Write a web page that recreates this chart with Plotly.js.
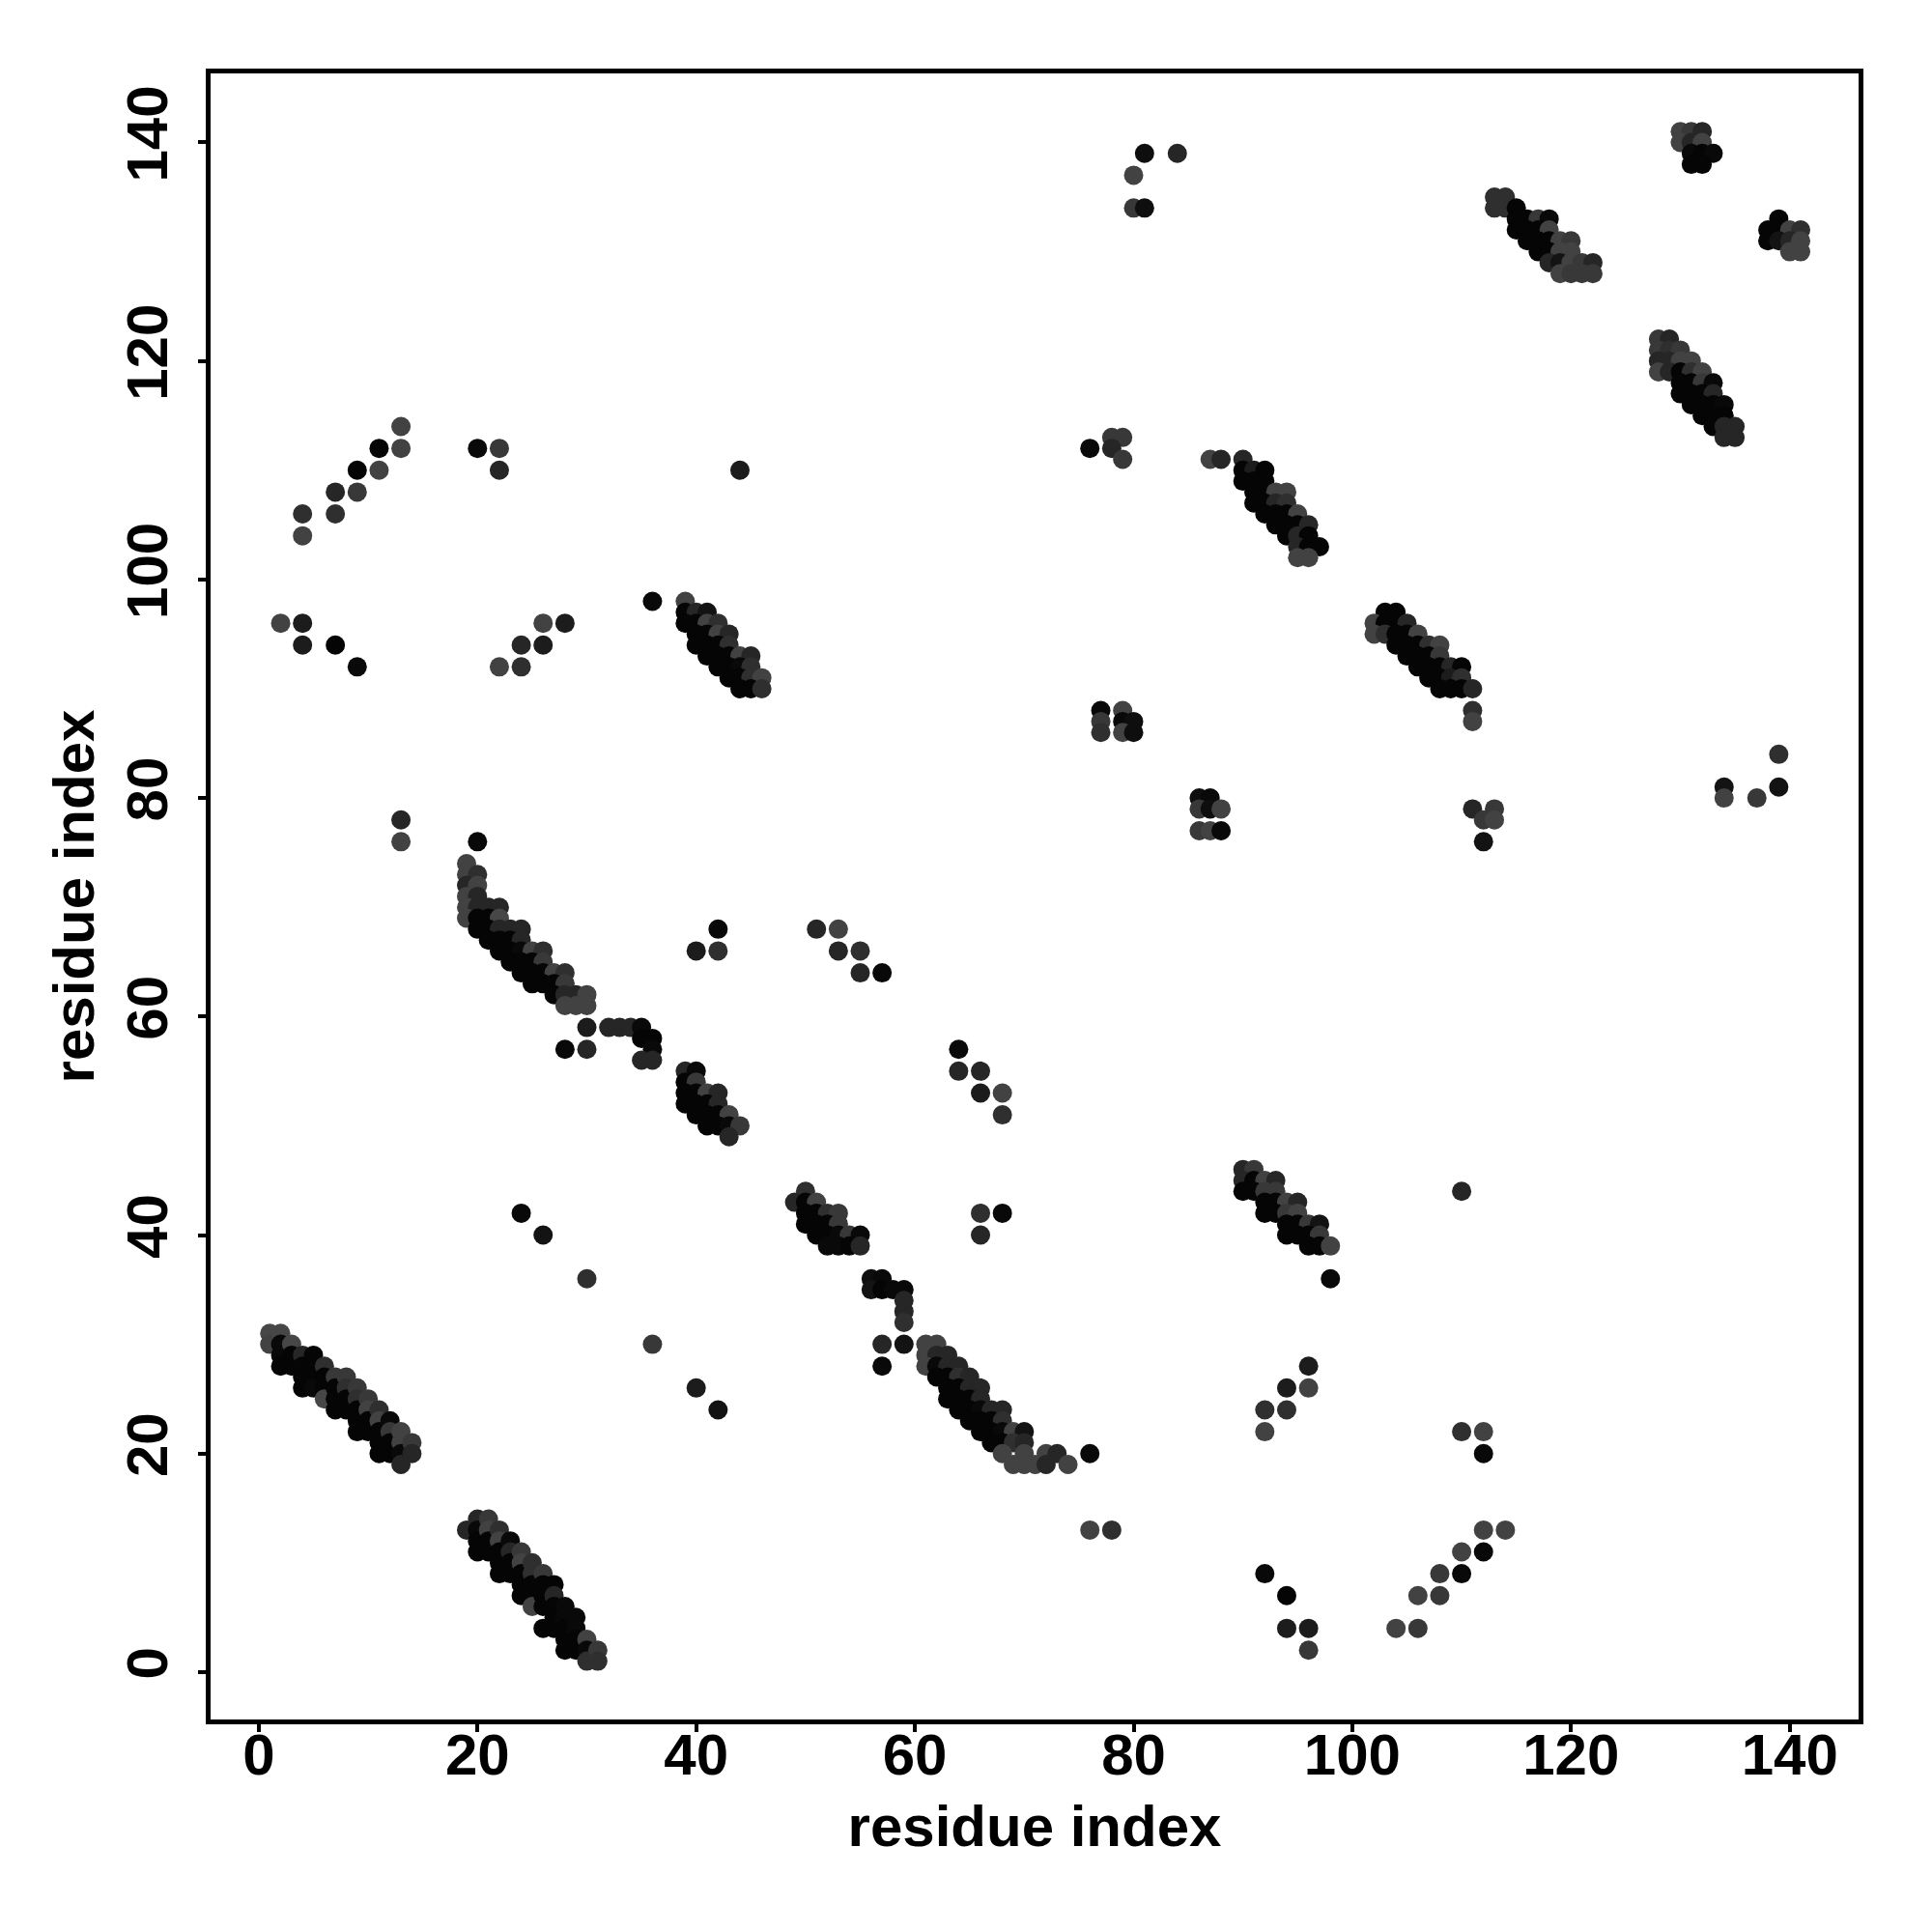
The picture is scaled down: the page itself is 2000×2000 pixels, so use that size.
<!DOCTYPE html>
<html>
<head>
<meta charset="utf-8">
<script src="https://cdn.plot.ly/plotly-3.0.1.min.js"></script>
<style>html,body{margin:0;padding:0;background:#ffffff;}</style>
</head>
<body>
<div id="plot" style="width:2000px;height:2000px;"></div>
<script>
// Contact map: residue index i (x), residue index j (y), contact score p (0..1 -> grey..black)
const A_i = [1,1, 2,2,2,2, 3,3,3, 4,4,4,4, 5,5,5,5, 6,6,6,6, 7,7,7,7, 8,8,8,8, 9,9,9,9,9, 10,10,10,10, 11,11,11,11,11, 12,12,12,12, 13,13,13,13, 14,14];
const A_j = [31,30, 31,30,29,28, 30,29,28, 29,28,27,26, 29,28,27,26, 28,27,26,25, 27,26,25,24, 27,26,25,24, 26,25,24,23,22, 25,24,23,22, 24,23,22,21,20, 23,22,21,20, 22,21,20,19, 21,20];
const A_p = [.25,.3, .25,.9,.9,.95, .25,.95,.95, .6,.95,.95,.95, .95,.95,.95,.9, .5,.95,.95,.25, .4,.95,.95,.95, .4,.5,.95,.95, .4,.5,.95,.95,.95, .4,.3,.95,.95, .5,.3,.95,.95,.95, .9,.4,.95,.95, .3,.3,.9,.6, .4,.6];

const B_i = [19, 20,20,20,20, 21,21,21,21, 22,22,22,22,22, 23,23,23,23, 24,24,24,24,24, 25,25,25,25,25, 26,26,26,26,26, 27,27,27,27,27, 28,28,28,28,28, 29,29,29,29, 30,30,30, 31,31];
const B_j = [13, 14,13,12,11, 14,13,12,11, 13,12,11,10,9, 12,11,10,9, 11,10,9,8,7, 10,9,8,7,6, 9,8,7,6,4, 8,7,6,5,4, 6,5,4,3,2, 5,4,3,2, 3,2,1, 2,1];
const B_p = [.6, .6,.9,.95,.95, .4,.3,.95,.95, .5,.3,.95,.95,.95, .9,.6,.95,.95, .4,.3,.95,.95,.95, .5,.5,.95,.95,.3, .4,.95,.95,.95,.95, .95,.6,.95,.95,.95, .9,.9,.95,.95,.95, .9,.9,.95,.95, .3,.9,.5, .4,.5];

const C_i = [20, 19, 19,20, 19,20, 19,20, 19,20,21,22, 19,20,21,22, 20,21,22,23,24, 21,22,23,24, 22,23,24,25,26, 23,24,25,26, 24,25,26,27,28, 25,26,27,28, 27,28,29,30, 28,29,30];
const C_j = [76, 74, 73,73, 72,72, 71,71, 70,70,70,70, 69,69,69,69, 68,68,68,68,68, 67,67,67,67, 66,66,66,66,66, 65,65,65,65, 64,64,64,64,64, 63,63,63,63, 62,62,62,62, 61,61,61];
const C_p = [.9, .3, .3,.5, .6,.3, .3,.6, .3,.6,.6,.6, .3,.95,.95,.25, .95,.95,.6,.6,.6, .95,.95,.95,.6, .95,.95,.9,.3,.5, .95,.95,.95,.4, .95,.95,.95,.3,.5, .95,.95,.95,.4, .95,.6,.6,.3, .3,.3,.3];

const D_i = [32,33,34,35, 35,36, 36, 35,36, 30,28,30];
const D_j = [59,59,59,59, 58,58, 57, 56,56, 59,57,57];
const D_p = [.6,.6,.6,.9, .95,.95, .9, .6,.6, .7,.9,.6];

const E_i = [39,40, 39,40, 39,40,41,42, 39,40,41,42, 40,41,42,43, 41,42,43,44, 43];
const E_j = [55,55, 54,54, 53,53,53,53, 52,52,52,52, 51,51,51,51, 50,50,50,50, 49];
const E_p = [.6,.9, .95,.4, .95,.95,.3,.6, .95,.95,.95,.6, .95,.95,.95,.3, .95,.95,.9,.4, .6];

const F_i = [39, 39,40,41, 39,40,41,42, 40,41,42,43, 40,41,42,43, 41,42,43,44,45, 42,43,44,45, 43,44,45,46, 44,45,46];
const F_j = [98, 97,97,97, 96,96,96,96, 95,95,95,95, 94,94,94,94, 93,93,93,93,93, 92,92,92,92, 91,91,91,91, 90,90,90];
const F_p = [.3, .95,.6,.8, .95,.95,.3,.5, .95,.95,.3,.6, .95,.95,.95,.5, .95,.95,.95,.3,.6, .95,.95,.9,.5, .95,.95,.5,.3, .95,.95,.5];

const G_i = [50, 49,50,51, 50,51,52,53, 50,51,52,53, 51,52,53,54,55, 52,53,54,55];
const G_j = [44, 43,43,43, 42,42,42,42, 41,41,41,41, 40,40,40,40,40, 39,39,39,39];
const G_p = [.5, .6,.95,.3, .95,.95,.5,.4, .95,.95,.95,.4, .95,.95,.9,.4,.9, .9,.9,.95,.6];

const H_i = [56,57, 56,57,58,59, 59, 59, 59, 57,59,57];
const H_j = [36,36, 35,35,35,35, 34, 33, 32, 30,30,28];
const H_p = [.85,.9, .8,.95,.9,.9, .6, .6, .5, .6,.8,.9];

const I_i = [61,62, 61,62,63, 61,62,63,64, 62,63,64,65, 63,64,65,66, 63,64,65,66, 64,65,66,67,68, 65,66,67,68, 66,67,68,69,70, 67,68,69,70, 68,70,72,73, 69,70,71,72,74, 76];
const I_j = [30,30, 29,29,29, 28,28,28,28, 27,27,27,27, 26,26,26,26, 25,25,25,25, 24,24,24,24,24, 23,23,23,23, 22,22,22,22,22, 21,21,21,21, 20,20,20,20, 19,19,19,19,19, 20];
const I_p = [.3,.3, .3,.6,.6, .3,.9,.6,.6, .95,.95,.5,.6, .95,.95,.6,.6, .95,.95,.95,.6, .95,.95,.9,.6,.6, .95,.95,.95,.5, .95,.95,.9,.3,.8, .95,.95,.5,.6, .3,.3,.3,.6, .3,.3,.3,.6,.3, .9];

const J_i = [90,91, 90,91,92,93, 90,91,92,93, 92,93,94,95, 92,93,94,95, 94,95,96,97, 94,95,96,97, 96,97,98, 98, 110];
const J_j = [46,46, 45,45,45,45, 44,44,44,44, 43,43,43,43, 42,42,42,42, 41,41,41,41, 40,40,40,40, 39,39,39, 36, 44];
const J_p = [.6,.4, .6,.95,.3,.6, .95,.95,.4,.4, .95,.95,.3,.6, .95,.95,.4,.3, .95,.95,.4,.8, .95,.95,.95,.4, .95,.95,.3, .9, .6];

const K_i = [87,88,90, 90,91,92, 90,91,92, 91,92,93,94, 91,92,93,94, 92,93,94,95, 93,94,95,96, 94,95,96, 95,96,97, 95,96];
const K_j = [111,111,111, 110,110,110, 109,109,109, 108,108,108,108, 107,107,107,107, 106,106,106,106, 105,105,105,105, 104,104,104, 103,103,103, 102,102];
const K_p = [.3,.6,.6, .95,.7,.95, .95,.95,.95, .95,.95,.3,.3, .95,.95,.6,.5, .95,.95,.95,.3, .95,.95,.95,.6, .95,.6,.95, .6,.95,.95, .3,.3];

const L_i = [103,104, 102,103,104,105, 102,103,104,105,106, 104,105,106,107,108, 105,106,107,108, 106,107,108,109,110, 107,108,109,110, 108,109,110,111, 111, 111];
const L_j = [97,97, 96,96,96,96, 95,95,95,95,95, 94,94,94,94,94, 93,93,93,93, 92,92,92,92,92, 91,91,91,91, 90,90,90,90, 88, 87];
const L_p = [.95,.95, .3,.95,.95,.6, .3,.5,.95,.95,.3, .95,.95,.95,.5,.3, .95,.95,.95,.4, .95,.95,.95,.6,.95, .95,.95,.7,.5, .95,.95,.95,.6, .5, .3];

const M_i = [113,114, 113,114,115, 115,116,117,118, 115,116,117,118, 116,117,118,119,120, 117,118,119,120, 118,119,120,121,122, 119,120,121,122];
const M_j = [135,135, 134,134,134, 133,133,133,133, 132,132,132,132, 131,131,131,131,131, 130,130,130,130, 129,129,129,129,129, 128,128,128,128];
const M_p = [.5,.5, .5,.5,.95, .95,.95,.4,.9, .95,.95,.95,.3, .95,.95,.95,.3,.4, .95,.95,.3,.3, .6,.8,.3,.4,.6, .3,.4,.4,.4];

const N_i = [128,129, 128,129,130, 128,129,130,131, 128,129,130,131,132, 130,131,132,133, 130,131,132,133, 131,132,133,134, 132,133,134, 133,134,135, 134,135];
const N_j = [122,122, 121,121,121, 120,120,120,120, 119,119,119,119,119, 118,118,118,118, 117,117,117,117, 116,116,116,116, 115,115,115, 114,114,114, 113,113];
const N_p = [.4,.6, .4,.5,.4, .6,.6,.3,.3, .3,.6,.95,.5,.3, .95,.95,.4,.9, .95,.95,.95,.6, .95,.95,.95,.9, .95,.95,.95, .95,.6,.6, .6,.6];

const O_i = [130,131,132, 130,131,132, 131,132,133, 131,132];
const O_j = [141,141,141, 140,140,140, 139,139,139, 138,138];
const O_p = [.3,.4,.6, .3,.6,.3, .9,.95,.9, .95,.95];

const P_i = [139, 138,139,140,141, 138,139,140,141, 140,141];
const P_j = [133, 132,132,132,132, 131,131,131,131, 130,130];
const P_p = [.95, .95,.95,.3,.5, .95,.8,.6,.3, .3,.3];

const iso_i = [36,40,42, 76,78, 92,94,96,96,94,92, 92,94,94,96,96, 104,106,106,108,108,110,110,112,112,114, 110,112,112, 24,26,30, 66,68,66, 64,64,66,66,68,68, 51,53,53,55,55,57, 40,42,42, 13,13, 2,4,4,7,9, 4,4,7,7,9,9,11,11,13,13, 20,22,22,44,36, 22,24,24,26,26,28, 76,78,79,78,79, 77,77,77,79,79,80,79,80, 86,87,86,87,88,86,87,88, 111,113,112,113,112, 134,134,137,139,139, 80,80,81,81,84];
const iso_j = [30,26,24, 13,13, 24,26,28,26,24,22, 9,7,4,4,2, 4,4,7,7,9,9,11,11,13,13, 22,22,20, 42,40,36, 42,42,40, 57,55,55,53,53,51, 68,68,66,66,64,64, 66,66,68, 78,76, 96,96,94,94,92, 106,104,108,106,110,108,112,110,114,112, 112,112,110,110,98, 92,92,94,94,96,96, 112,113,113,112,111, 88,87,86,88,87,87,86,86, 80,80,79,79,79,77,77,77, 79,79,78,78,76, 81,80,80,81,84, 137,134,134,139,139];
const iso_p = [.4,.7,.8, .3,.5, .5,.7,.7,.3,.5,.3, .9,.95,.7,.7,.4, .3,.4,.3,.4,.4,.9,.3,.9,.3,.3, .5,.3,.9, .9,.8,.5, .5,.9,.6, .9,.6,.6,.7,.3,.5, .6,.3,.6,.5,.6,.9, .7,.5,.9, .6,.3, .3,.7,.7,.95,.9, .5,.3,.6,.5,.95,.4,.95,.3,.3,.3, .9,.4,.6,.7,.9, .3,.5,.6,.7,.3,.7, .9,.4,.4,.6,.4, .9,.4,.5,.3,.9,.85,.3,.85, .85,.9,.4,.85,.3,.4,.3,.9, .6,.4,.4,.3,.8, .8,.3,.4,.8,.5, .3,.4,.85,.85,.6];

const axisTicks = [0, 20, 40, 60, 80, 100, 120, 140];
const axisTitle = 'residue index';

const groups = [
  [A_i, A_j, A_p], [B_i, B_j, B_p], [C_i, C_j, C_p], [D_i, D_j, D_p],
  [E_i, E_j, E_p], [F_i, F_j, F_p], [G_i, G_j, G_p], [H_i, H_j, H_p],
  [I_i, I_j, I_p], [J_i, J_j, J_p], [K_i, K_j, K_p], [L_i, L_j, L_p],
  [M_i, M_j, M_p], [N_i, N_j, N_p], [O_i, O_j, O_p], [P_i, P_j, P_p],
  [iso_i, iso_j, iso_p]
];
let xs = [], ys = [], ps = [];
groups.forEach(g => {
  const n = Math.min(g[0].length, g[1].length, g[2].length);
  xs = xs.concat(g[0].slice(0, n));
  ys = ys.concat(g[1].slice(0, n));
  ps = ps.concat(g[2].slice(0, n));
});

const fontFam = 'Liberation Sans, Arial, Helvetica, sans-serif';
const baseFont = {family: fontFam, size: 60, color: '#000000', weight: 'bold'};

const trace = {
  type: 'scatter', mode: 'markers',
  x: xs, y: ys,
  marker: {
    size: 20, color: ps, cmin: 0, cmax: 1,
    colorscale: [[0, '#5e5e5e'], [1, '#000000']],
    showscale: false, line: {width: 0}
  },
  hoverinfo: 'x+y', showlegend: false
};

function axisCfg(range, extra) {
  return Object.assign({
    range: range, tickmode: 'array', tickvals: axisTicks,
    ticks: 'outside', ticklen: 8, tickwidth: 4, tickcolor: '#000000',
    showline: true, linewidth: 5, linecolor: '#000000', mirror: true,
    showgrid: false, zeroline: false, automargin: false,
    tickfont: baseFont
  }, extra);
}

const layout = {
  width: 2000, height: 2000,
  margin: {l: 218, r: 76, t: 76, b: 220, pad: 0},
  paper_bgcolor: '#ffffff', plot_bgcolor: '#ffffff',
  xaxis: axisCfg([-4.41, 146.3], {
    ticklabelstandoff: -28,
    title: {text: axisTitle, font: baseFont, standoff: 21}
  }),
  yaxis: axisCfg([-4.34, 146.32], {
    tickangle: -90,
    ticklabelstandoff: 8,
    title: {text: axisTitle, font: baseFont, standoff: 4}
  }),
  showlegend: false
};

Plotly.newPlot('plot', [trace], layout, {staticPlot: true, displayModeBar: false});
</script>
</body>
</html>
